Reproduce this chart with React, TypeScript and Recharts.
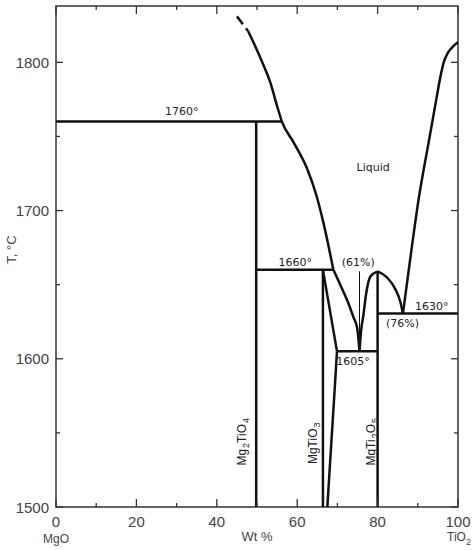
import React from 'react';
import {
  ComposedChart,
  Line,
  Scatter,
  XAxis,
  YAxis,
  ReferenceArea,
} from 'recharts';

// phase boundaries, x = wt% TiO2, t = temperature (°C)
const liquidusDashed = [
  { x: 45.0, t: 1831 },
  { x: 47.8, t: 1821 },
];
const liquidusMgO = [
  { x: 47.8, t: 1821 },
  { x: 49.2, t: 1813 },
  { x: 51.7, t: 1797.5 },
  { x: 53.3, t: 1786.5 },
  { x: 55.0, t: 1770.5 },
  { x: 56.2, t: 1760 },
  { x: 59.1, t: 1746 },
  { x: 62.5, t: 1728 },
  { x: 64.8, t: 1710 },
  { x: 66.5, t: 1692 },
  { x: 67.8, t: 1676 },
  { x: 69.0, t: 1660 },
];
const solidus1760 = [
  { x: 0, t: 1760 },
  { x: 56.2, t: 1760 },
];
const mg2tio4 = [
  { x: 49.8, t: 1760 },
  { x: 49.8, t: 1500 },
];
const solidus1660 = [
  { x: 49.8, t: 1660 },
  { x: 69.0, t: 1660 },
];
const mgtio3 = [
  { x: 66.4, t: 1660 },
  { x: 66.4, t: 1500 },
];
const ssUpper = [
  { x: 66.4, t: 1660 },
  { x: 69.9, t: 1605 },
];
const ssLower = [
  { x: 67.5, t: 1500 },
  { x: 69.9, t: 1605 },
];
const solidus1605 = [
  { x: 69.9, t: 1605 },
  { x: 80, t: 1605 },
];
const eutecticLeft = [
  { x: 69.0, t: 1660 },
  { x: 70.7, t: 1650 },
  { x: 72.8, t: 1637 },
  { x: 74.0, t: 1628 },
  { x: 74.9, t: 1621 },
  { x: 75.5, t: 1605 },
];
const eutecticRight = [
  { x: 75.5, t: 1605 },
  { x: 75.9, t: 1619 },
  { x: 76.5, t: 1630 },
  { x: 77.1, t: 1643 },
  { x: 78.2, t: 1655.5 },
  { x: 80, t: 1659 },
];
const eutecticTie = [
  { x: 75.5, t: 1659 },
  { x: 75.5, t: 1606 },
];
const mgti2o5 = [
  { x: 80, t: 1659 },
  { x: 80, t: 1500 },
];
const liquidusPeak = [
  { x: 80, t: 1659 },
  { x: 82.3, t: 1655 },
  { x: 84.4, t: 1647 },
  { x: 85.7, t: 1638 },
  { x: 86.3, t: 1630.5 },
];
const solidus1630 = [
  { x: 80, t: 1630.5 },
  { x: 100, t: 1630.5 },
];
const liquidusTiO2 = [
  { x: 86.3, t: 1630.5 },
  { x: 88.2, t: 1669 },
  { x: 90.2, t: 1707.5 },
  { x: 92.7, t: 1746 },
  { x: 94.6, t: 1775 },
  { x: 95.6, t: 1790 },
  { x: 96.5, t: 1800.5 },
  { x: 97.5, t: 1806.5 },
  { x: 98.8, t: 1810.8 },
  { x: 100, t: 1813.5 },
];

const annotations = [
  { x: 31.3, t: 1764.2, text: '1760°' },
  { x: 59.5, t: 1662.8, text: '1660°' },
  { x: 75.2, t: 1662.8, text: '(61%)' },
  { x: 73.9, t: 1596, text: '1605°' },
  { x: 86.2, t: 1621.6, text: '(76%)' },
  { x: 93.5, t: 1633.1, text: '1630°' },
  { x: 78.9, t: 1726.4, text: 'Liquid' },
];
const phases = [
  { x: 46.3, t: 1544, text: 'Mg2TiO4' },
  { x: 63.9, t: 1543, text: 'MgTiO3' },
  { x: 78.4, t: 1544, text: 'MgTi2O5' },
];

const xTicks = [0, 10, 20, 30, 40, 50, 60, 70, 80, 90, 100];
const yTicks = [1500, 1550, 1600, 1650, 1700, 1750, 1800];

const WIDTH = 475;
const HEIGHT = 550;
const MARGIN = { top: 6, right: 17, bottom: 0, left: 0 };
const PLOT_TOP = MARGIN.top;
const PLOT_RIGHT = WIDTH - MARGIN.right;
const Y_MAX = 1838;

const tickFont = '"Liberation Sans", Arial, sans-serif';
const labelFont = '"DejaVu Sans", Verdana, sans-serif';
const axisGray = '#444';

const XTick = (props: any) => {
  const { x, y, payload } = props;
  const v = payload.value;
  const major = v % 20 === 0;
  const len = major ? 8 : 4;
  return (
    <g>
      <line x1={x} y1={y} x2={x} y2={y - len} stroke="#333" strokeWidth={1.3} />
      <line x1={x} y1={PLOT_TOP} x2={x} y2={PLOT_TOP + len} stroke="#333" strokeWidth={1.3} />
      {major && (
        <text x={x} y={y + 20} textAnchor="middle" fontFamily={tickFont} fontSize={15} fill={axisGray}>
          {v}
        </text>
      )}
      {v === 0 && (
        <text x={x} y={y + 36} textAnchor="middle" fontFamily={tickFont} fontSize={12} fill={axisGray}>
          MgO
        </text>
      )}
      {v === 50 && (
        <text x={x} y={y + 34} textAnchor="middle" fontFamily={tickFont} fontSize={13} fill={axisGray}>
          Wt %
        </text>
      )}
      {v === 100 && (
        <text x={x - 11} y={y + 34} fontFamily={tickFont} fontSize={12} fill={axisGray}>
          TiO<tspan dy={4} fontSize={9}>2</tspan>
        </text>
      )}
    </g>
  );
};

const YTick = (props: any) => {
  const { x, y, payload } = props;
  const v = payload.value;
  const major = v % 100 === 0;
  const len = major ? 7 : 4;
  return (
    <g>
      <line x1={x} y1={y} x2={x + len} y2={y} stroke="#333" strokeWidth={1.3} />
      <line x1={PLOT_RIGHT} y1={y} x2={PLOT_RIGHT - len} y2={y} stroke="#333" strokeWidth={1.3} />
      {major && (
        <text x={x - 7} y={y + 5.5} textAnchor="end" fontFamily={tickFont} fontSize={15} fill={axisGray}>
          {v}
        </text>
      )}
      {v === 1700 && (
        <text
          x={12}
          y={y + 39}
          transform={`rotate(-90 12 ${y + 39})`}
          textAnchor="middle"
          dominantBaseline="central"
          fontFamily={tickFont}
          fontSize={13}
          fill={axisGray}
        >
          T, °C
        </text>
      )}
    </g>
  );
};

const AnnotationMark = (props: any) => {
  const { cx, cy } = props;
  const item = props.payload ?? props;
  return (
    <text x={cx} y={cy} textAnchor="middle" fontFamily={labelFont} fontSize={11} fill="#222">
      {item.text}
    </text>
  );
};

const PhaseMark = (props: any) => {
  const { cx, cy } = props;
  const item = props.payload ?? props;
  const parts = String(item.text).match(/[A-Za-z]+|\d+/g) || [];
  let sub = false;
  return (
    <text
      x={cx}
      y={cy}
      transform={`rotate(-90 ${cx} ${cy})`}
      textAnchor="middle"
      dominantBaseline="central"
      fontFamily={tickFont}
      fontSize={12}
      fill="#222"
    >
      {parts.map((p, i) => {
        const isNum = /\d/.test(p);
        const dy = isNum && !sub ? 4 : !isNum && sub ? -4 : 0;
        sub = isNum;
        return (
          <tspan key={i} dy={dy} fontSize={isNum ? 9 : 12} dx={isNum ? 1 : 0}>
            {p}
          </tspan>
        );
      })}
    </text>
  );
};

const boundaries = [
  liquidusMgO,
  solidus1760,
  mg2tio4,
  solidus1660,
  mgtio3,
  ssUpper,
  ssLower,
  solidus1605,
  eutecticLeft,
  eutecticRight,
  mgti2o5,
  liquidusPeak,
  solidus1630,
  liquidusTiO2,
];
const curved = [liquidusMgO, eutecticLeft, eutecticRight, liquidusPeak, liquidusTiO2];

export default function App() {
  return (
    <div style={{ position: 'absolute', left: 0, top: 0, background: '#fff' }}>
      <ComposedChart width={WIDTH} height={HEIGHT} margin={MARGIN}>
        <XAxis
          dataKey="x"
          type="number"
          domain={[0, 100]}
          ticks={xTicks}
          allowDataOverflow
          axisLine={false}
          tickLine={false}
          tickSize={0}
          tickMargin={0}
          height={43}
          tick={<XTick />}
        />
        <YAxis
          dataKey="t"
          type="number"
          domain={[1500, Y_MAX]}
          ticks={yTicks}
          allowDataOverflow
          axisLine={false}
          tickLine={false}
          tickSize={0}
          tickMargin={0}
          width={56}
          tick={<YTick />}
        />
        <ReferenceArea
          x1={0}
          x2={100}
          y1={1500}
          y2={Y_MAX}
          fill="none"
          fillOpacity={0}
          stroke="#333"
          strokeWidth={1.5}
        />
        <Line
          data={liquidusDashed}
          dataKey="t"
          type="linear"
          stroke="#111"
          strokeWidth={2.5}
          strokeDasharray="10 5"
          dot={false}
          activeDot={false}
          isAnimationActive={false}
        />
        {boundaries.map((seg, i) => (
          <Line
            key={i}
            data={seg}
            dataKey="t"
            type={curved.includes(seg) ? 'monotone' : 'linear'}
            stroke="#111"
            strokeWidth={2.5}
            dot={false}
            activeDot={false}
            isAnimationActive={false}
          />
        ))}
        <Line
          data={eutecticTie}
          dataKey="t"
          type="linear"
          stroke="#111"
          strokeWidth={1}
          dot={false}
          activeDot={false}
          isAnimationActive={false}
        />
        <Scatter data={annotations} dataKey="t" shape={<AnnotationMark />} isAnimationActive={false} />
        <Scatter data={phases} dataKey="t" shape={<PhaseMark />} isAnimationActive={false} />
      </ComposedChart>
    </div>
  );
}
